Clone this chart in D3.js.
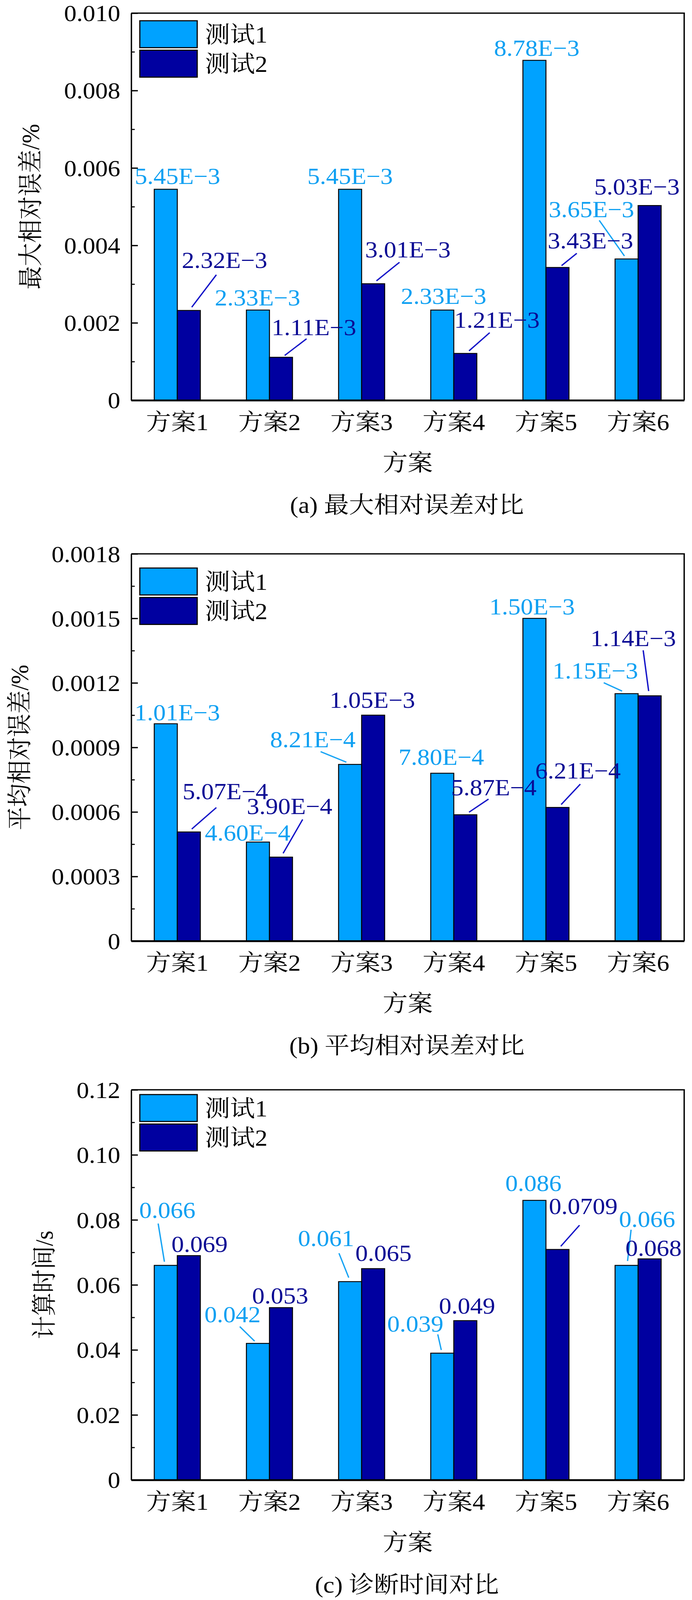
<!DOCTYPE html>
<html>
<head>
<meta charset="utf-8">
<script src="https://cdn.jsdelivr.net/npm/d3@7"></script>
<style>
  html, body { margin: 0; padding: 0; background: #fff; overflow: hidden; }
  #chart svg { display: block; }
  text { font-family: "Liberation Serif", "Noto Serif CJK SC", "Noto Sans CJK SC", serif; }
</style>
</head>
<body>
<div id="chart"></div>
<script>
// categories / series
const schemes = ["方案1", "方案2", "方案3", "方案4", "方案5", "方案6"];
const series = ["测试1", "测试2"];

// (a) max relative error
const maxErr1 = [5.45e-3, 2.33e-3, 5.45e-3, 2.33e-3, 8.78e-3, 3.65e-3];
const maxErr2 = [2.32e-3, 1.11e-3, 3.01e-3, 1.21e-3, 3.43e-3, 5.03e-3];
// (b) mean relative error
const avgErr1 = [1.01e-3, 4.60e-4, 8.21e-4, 7.80e-4, 1.50e-3, 1.15e-3];
const avgErr2 = [5.07e-4, 3.90e-4, 1.05e-3, 5.87e-4, 6.21e-4, 1.14e-3];
// (c) calculation time
const time1 = [0.066, 0.042, 0.061, 0.039, 0.086, 0.066];
const time2 = [0.069, 0.053, 0.065, 0.049, 0.0709, 0.068];

// tick labels
const ticksA = ["0", "0.002", "0.004", "0.006", "0.008", "0.010"];
const ticksB = ["0", "0.0003", "0.0006", "0.0009", "0.0012", "0.0015", "0.0018"];
const ticksC = ["0", "0.02", "0.04", "0.06", "0.08", "0.10", "0.12"];

const yTitles = ["最大相对误差/%", "平均相对误差/%", "计算时间/s"];
const captions = ["(a) 最大相对误差对比", "(b) 平均相对误差对比", "(c) 诊断时间对比"];
const xTitle = "方案";

const expFmt = v => v.toExponential(2).replace("e", "E").replace("-", "\u2212");
const plainFmt = v => String(v);

const panels = [
    { s1: maxErr1, s2: maxErr2, ticks: ticksA, fmt: expFmt },
    { s1: avgErr1, s2: avgErr2, ticks: ticksB, fmt: expFmt },
    { s1: time1, s2: time2, ticks: ticksC, fmt: plainFmt }
];

// layout (pixels)
const W = 1772, H = 4397;
const left = 336, right = 1752;
const layout = [
    { top: 36, bottom: 1100, legendTop: 57, titleX: 78 },
    { top: 1522, bottom: 2586, legendTop: 1561, titleX: 50 },
    { top: 2995, bottom: 4067, legendTop: 3008, titleX: 113 }
];

// value label offsets from bar top centre: [dx, dy, (leader x1, y1, x2, y2)]
const labelPos = [
    {
        s1: [[30, -36], [-1, -34], [0, -36], [3.5, -39], [6, -34], [-90, -136, -70, -106, -5.5, -8]],
        s2: [[91.5, -139, 70.5, -98, 7.5, -9], [84.5, -83, 65.5, -51, 9.5, -5], [89, -94, 67.5, -59, 8.5, -8],
             [81, -92, 62.5, -57, 9.5, -7], [84.5, -74, 49.5, -39, 10.5, -5], [-32.5, -52]]
    },
    {
        s1: [[29.5, -31], [-26.5, -26], [-95.5, -69, -75.5, -35, -9.5, -6], [-2.5, -45], [-6, -32.5],
             [-80, -63, -58.5, -30, -11.5, -7]],
        s2: [[93.5, -112, 70.5, -67, 7.5, -8], [22, -140, 55.5, -103.5, 5.5, -10.5], [-2, -41.5],
             [73, -75, 59.5, -43, 9.5, -7], [52.5, -101, 58.5, -64, 9.5, -8], [-42, -158, -16.5, -125, -2.5, -13]]
    },
    {
        s1: [[4, -152, -19.5, -115, -3.5, -10], [-65, -80, -46.5, -46, -8.5, -6], [-61.5, -119, -28.5, -78, -3.5, -11],
             [-69, -80.6, -11.5, -51.6, -2.5, -8.6], [-2.5, -47], [52.5, -127, 11.5, -98, 2.5, -12]],
        s2: [[27.5, -31.6], [-2, -33.5], [26.5, -42.4], [4.5, -41.3], [66, -118.7, 56.5, -66.7, 8.5, -8.7], [10, -29.6]]
    }
];

const fill = { "测试1": "#00a2ff", "测试2": "#0000a0" };
const textCol = { "测试1": "#0ea0f2", "测试2": "#0a0a94" };
const lineCol = { "测试1": "#18a4f4", "测试2": "#1414c8" };
const FS = 64;

// the drawing is laid out in a 1772x4397 box and stretched onto the viewport
const svg = d3.select("#chart").append("svg")
    .attr("viewBox", `0 0 ${W} ${H}`)
    .attr("preserveAspectRatio", "none")
    .style("width", "100vw")
    .style("height", "100vh");
svg.append("rect").attr("width", W).attr("height", H).attr("fill", "#fff");

const x0 = d3.scaleBand().domain(schemes).range([left, right]).padding(0);
const x1 = d3.scaleBand().domain(series)
    .range([x0.bandwidth() * 0.25, x0.bandwidth() * 0.75]).padding(0);

panels.forEach((p, pi) => {
    const L = layout[pi];
    const tickVals = p.ticks.map(Number);
    const step = tickVals[1] - tickVals[0];
    const y = d3.scaleLinear()
        .domain([0, tickVals[tickVals.length - 1]])
        .range([L.bottom, L.top]);
    const g = svg.append("g");

    // bars
    const rows = schemes.map((s, i) => ({ scheme: s, i, vals: [p.s1[i], p.s2[i]] }));
    const grp = g.selectAll(".grp").data(rows).enter().append("g")
        .attr("transform", d => `translate(${x0(d.scheme)},0)`);
    grp.selectAll("rect")
        .data(d => series.map((s, k) => ({ s, v: d.vals[k] })))
        .enter().append("rect")
        .attr("x", d => x1(d.s))
        .attr("width", x1.bandwidth())
        .attr("y", d => y(d.v))
        .attr("height", d => y(0) - y(d.v))
        .attr("fill", d => fill[d.s])
        .attr("stroke", "#000")
        .attr("stroke-width", 2.5);

    // frame top / right
    g.append("path")
        .attr("d", `M${left},${L.top}H${right}V${L.bottom}`)
        .attr("fill", "none").attr("stroke", "#000").attr("stroke-width", 3.5);

    // y axis: major + minor ticks inward
    const minorVals = tickVals.slice(0, -1).map(v => v + step / 2);
    g.append("g")
        .attr("transform", `translate(${left},0)`)
        .call(d3.axisLeft(y).tickValues(minorVals).tickSize(-9).tickFormat(""))
        .call(a => a.select(".domain").remove())
        .selectAll("line").attr("stroke-width", 3);
    const ya = g.append("g")
        .attr("transform", `translate(${left},0)`)
        .call(d3.axisLeft(y).tickValues(tickVals).tickSize(-17).tickSizeOuter(0)
            .tickPadding(28).tickFormat((d, i) => p.ticks[i]));
    ya.select(".domain").attr("stroke-width", 3.5);
    ya.selectAll("line").attr("stroke-width", 3.5);
    ya.selectAll("text")
        .attr("font-size", FS).attr("fill", "#000")
        .attr("dy", null).attr("dominant-baseline", "central");

    // x axis (no ticks)
    const xa = g.append("g")
        .attr("transform", `translate(0,${L.bottom})`)
        .call(d3.axisBottom(x0).tickSize(0).tickPadding(60).tickSizeOuter(0));
    xa.select(".domain").attr("stroke-width", 5);
    xa.selectAll("text")
        .attr("font-size", FS).attr("fill", "#000")
        .attr("y", 60).attr("dy", null).attr("dominant-baseline", "central");

    // value labels + leader lines
    series.forEach((s, k) => {
        const vals = k === 0 ? p.s1 : p.s2;
        const pos = labelPos[pi][k === 0 ? "s1" : "s2"];
        vals.forEach((v, i) => {
            const bx = x0(schemes[i]) + x1(s) + x1.bandwidth() / 2;
            const by = y(v);
            const o = pos[i];
            if (o.length > 2) {
                g.append("line")
                    .attr("x1", bx + o[2]).attr("y1", by + o[3])
                    .attr("x2", bx + o[4]).attr("y2", by + o[5])
                    .attr("stroke", lineCol[s]).attr("stroke-width", 3.5);
            }
            g.append("text")
                .attr("x", bx + o[0]).attr("y", by + o[1])
                .attr("text-anchor", "middle")
                .attr("dominant-baseline", "central")
                .attr("font-size", FS)
                .attr("fill", textCol[s])
                .text(p.fmt(v));
        });
    });

    // legend
    const lg = g.append("g").attr("transform", `translate(358,${L.legendTop})`);
    series.forEach((s, k) => {
        lg.append("rect")
            .attr("x", 0).attr("y", k * 81)
            .attr("width", 147).attr("height", 74)
            .attr("fill", fill[s]).attr("stroke", "#000").attr("stroke-width", 3);
        lg.append("text")
            .attr("x", 167).attr("y", k * 81 + 38)
            .attr("dominant-baseline", "central")
            .attr("font-size", FS).attr("fill", "#000")
            .text(s);
    });

    // titles
    const cy = (L.top + L.bottom) / 2;
    g.append("text")
        .attr("transform", `translate(${L.titleX},${cy}) rotate(-90)`)
        .attr("text-anchor", "middle").attr("dominant-baseline", "central")
        .attr("font-size", FS).attr("fill", "#000")
        .text(yTitles[pi]);
    g.append("text")
        .attr("x", (left + right) / 2).attr("y", L.bottom + 172)
        .attr("text-anchor", "middle").attr("dominant-baseline", "central")
        .attr("font-size", FS).attr("fill", "#000")
        .text(xTitle);
    g.append("text")
        .attr("x", (left + right) / 2 - 2).attr("y", L.bottom + 288)
        .attr("text-anchor", "middle").attr("dominant-baseline", "central")
        .attr("font-size", FS).attr("fill", "#000")
        .text(captions[pi]);
});
</script>
</body>
</html>
